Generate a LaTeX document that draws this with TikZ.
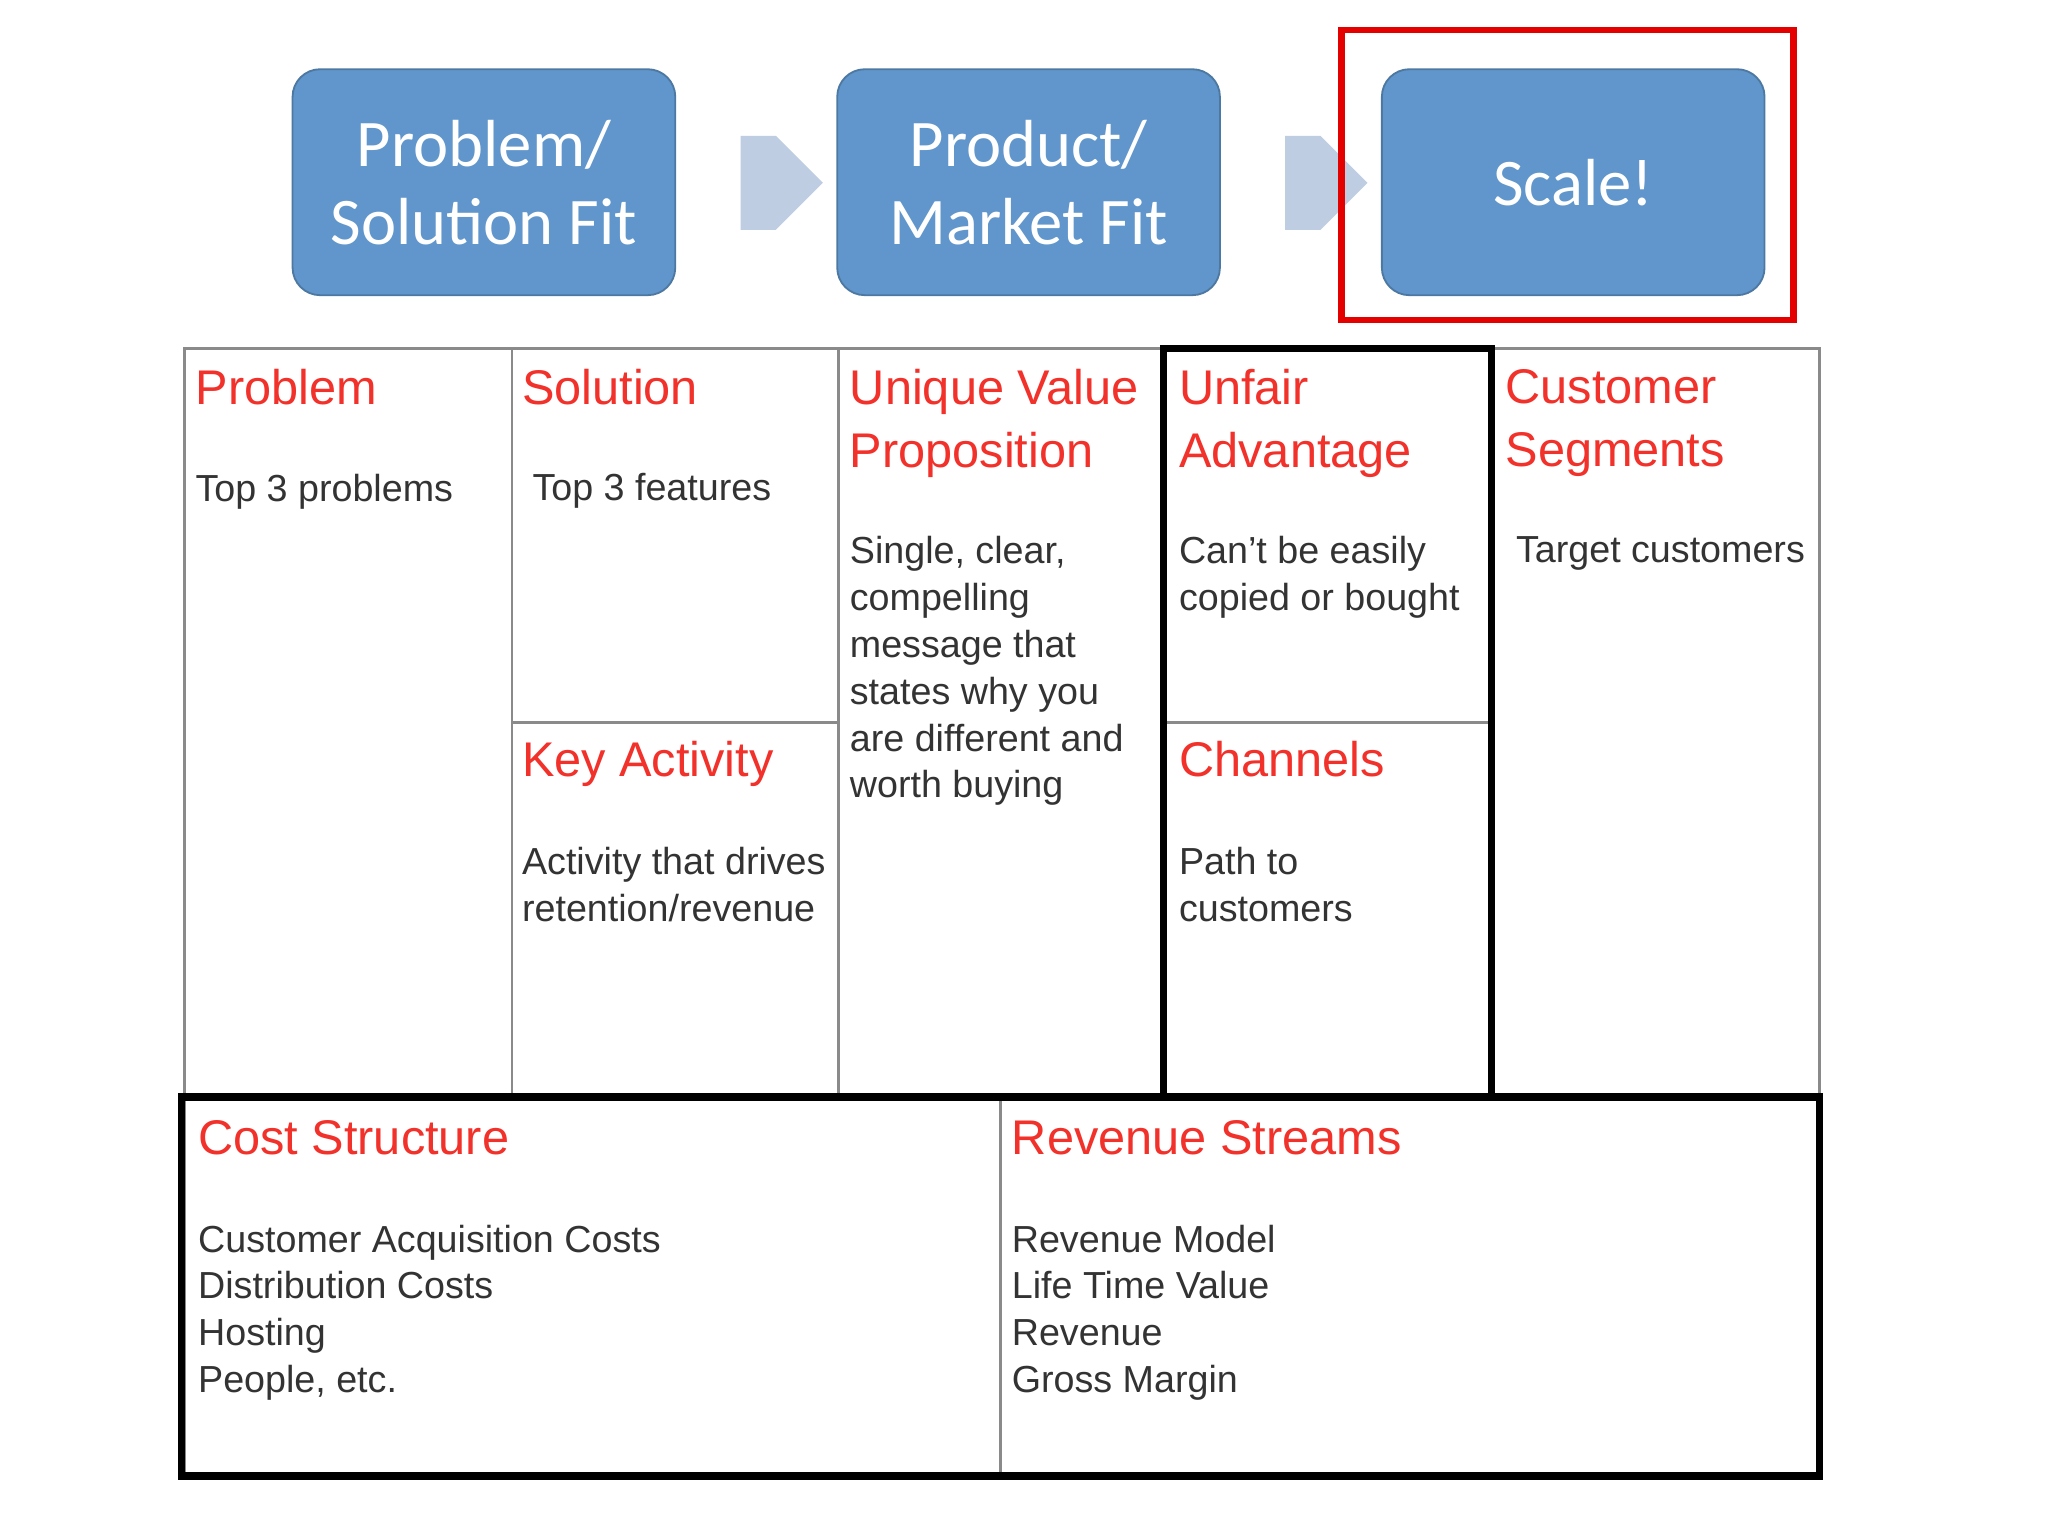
\documentclass[tikz,border=0pt]{standalone}
\usepackage{fontspec}
\setmainfont{Liberation Sans}
\newfontfamily\boxfont{Carlito}
\usetikzlibrary{shapes.arrows}
\definecolor{boxblue}{HTML}{6096CB}
\definecolor{arrowblue}{HTML}{BFCDE3}
\definecolor{ttlred}{HTML}{F2312A}
\definecolor{txtgray}{HTML}{333333}
\definecolor{linegray}{HTML}{8A8A8A}
\begin{document}
\begin{tikzpicture}[x=0.01cm,y=-0.01cm,
  stage/.style={draw=boxblue!80!black,line width=0.4pt,fill=boxblue,rounded corners=6pt,minimum width=293*0.01cm,minimum height=173*0.01cm,text=white,font=\boxfont\fontsize{14.5}{17}\selectfont,align=center},
  harrow/.style={single arrow,fill=arrowblue,draw=none,minimum width=72*0.01cm,single arrow head extend=0pt,minimum height=63*0.01cm,inner sep=0pt,single arrow tip angle=90},
  ttl/.style={anchor=north west,inner sep=0pt,text=ttlred,font=\fontsize{10.6}{13.7}\selectfont,align=left},
  body/.style={anchor=north west,inner sep=0pt,text=txtgray,font=\fontsize{8.2}{10.2}\selectfont,align=left},
  thin/.style={draw=linegray,line width=0.6pt},
  thick/.style={draw=black,line width=1.6pt}]
\useasboundingbox (0,0) rectangle (1568,1176);
\fill[white] (0,0) rectangle (1568,1176);
% stages
\node[stage] (s1) at (370.5,139.5) {Problem/\\Solution Fit};
\node[stage] (s2) at (787.5,139.5) {Product/\\Market Fit};
\node[stage] (s3) at (1204.5,139.5) {Scale!};
\node[harrow] (a1) at (580.5,140) {};
\node[harrow] (a2) at (997.5,140) {};
\draw[draw=red!90!black,line width=1.4pt] (1027,23) rectangle (1373,245);
% grid thin
\draw[thin] (141,267) rectangle (1393,1130);
\draw[thin] (392,267) -- (392,840);
\draw[thin] (642,267) -- (642,840);
\draw[thin] (392,553) -- (642,553);
\draw[thin] (891,553) -- (1142,553);
\draw[thin] (766,840) -- (766,1130);
\draw[thin] (891,840) -- (1142,840);
% thick
\draw[thick] (891,840) -- (891,267) -- (1142,267) -- (1142,840);
\draw[thick] (139,840) rectangle (1393,1130);
% texts
\node[ttl] (t1) at (149,282) {Problem};
\node[body] (b1) at (149,362) {Top 3 problems};
\node[ttl] (t2) at (399,282) {Solution};
\node[body] (b2) at (407,362) {Top 3 features};
\node[ttl] (t3) at (650,282) {Unique Value\\Proposition};
\node[body] (b3) at (650,410) {Single, clear,\\compelling\\message that\\states why you\\are different and\\worth buying};
\node[ttl] (t4) at (902,282) {Unfair\\Advantage};
\node[body] (b4) at (902,410) {Can’t be easily\\copied or bought};
\node[ttl] (t5) at (1152,282) {Customer\\Segments};
\node[body] (b5) at (1160,410) {Target customers};
\node[ttl] (t6) at (399,567) {Key Activity};
\node[body] (b6) at (399,648) {Activity that drives\\retention/revenue};
\node[ttl] (t7) at (902,567) {Channels};
\node[body] (b7) at (902,648) {Path to\\customers};
\node[ttl] (t8) at (151,857) {Cost Structure};
\node[body] (b8) at (151,937) {Customer Acquisition Costs\\Distribution Costs\\Hosting\\People, etc.};
\node[ttl] (t9) at (774,857) {Revenue Streams};
\node[body] (b9) at (774,937) {Revenue Model\\Life Time Value\\Revenue\\Gross Margin};
\end{tikzpicture}
\end{document}
